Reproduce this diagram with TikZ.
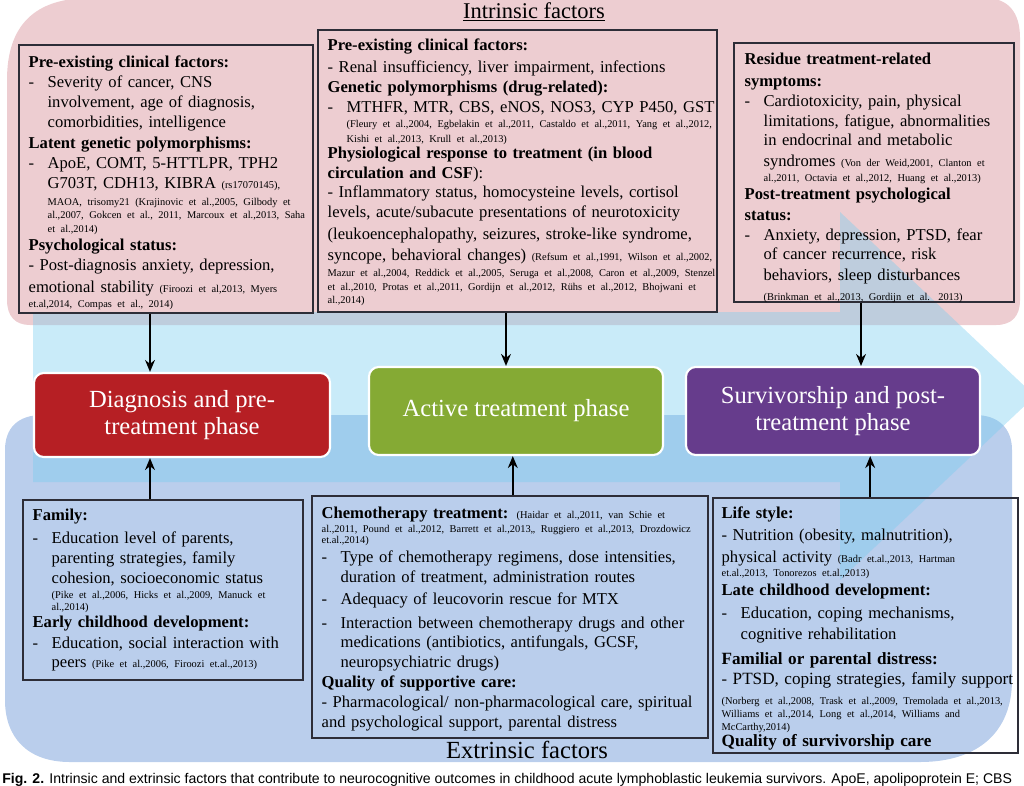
\documentclass[tikz,border=0pt]{standalone}
\usepackage{fontspec}
\setmainfont{Liberation Serif}
\setsansfont{Liberation Sans}
\usetikzlibrary{arrows.meta,positioning,fit}
\definecolor{intrbg}{RGB}{237,205,209}
\definecolor{extrbg}{RGB}{186,206,236}
\definecolor{flowcolor}{RGB}{120,205,240}
\definecolor{diagcolor}{RGB}{182,31,36}
\definecolor{activecolor}{RGB}{133,170,52}
\definecolor{survcolor}{RGB}{102,60,140}
\definecolor{framecolor}{RGB}{45,45,55}

\newcommand{\heading}[1]{\par\noindent\textbf{#1}}
\newcommand{\dashitem}{\par\noindent\makebox[13.5pt][l]{-}}
\newcommand{\hangline}{\hspace*{13.5pt}}
\newcommand{\plainitem}{\par\noindent-\ }
\newcommand{\citetxt}[1]{{\fontsize{7.4}{9}\selectfont #1}}

\begin{document}
\begin{tikzpicture}[
    x=0.025cm, y=-0.025cm,
    factorbox/.style={draw=framecolor, line width=0.9pt, inner sep=0pt},
    boxtext/.style={anchor=north west, inner sep=0pt, font=\fontsize{11.8}{14.2}\selectfont},
    phasebox/.style={rectangle, rounded corners=7pt, draw=white, line width=1.5pt, text=white, align=center, font=\fontsize{17.5}{19.5}\selectfont},
    flowarrow/.style={-{Stealth[length=8.5pt,width=7pt]}, line width=1.4pt},
    title/.style={anchor=base}
]
\useasboundingbox (0,0) rectangle (1024,785);

% Background regions
\fill[intrbg] (7,300) -- (7,80) .. controls (7,25) and (35,-2) .. (90,-2) -- (985,-2) .. controls (1008,-2) and (1020,12) .. (1020,38) -- (1020,300) .. controls (1020,316) and (1012,325) .. (996,325) -- (30,325) .. controls (15,325) and (7,316) .. (7,300) -- cycle;
\fill[extrbg] (5,450) .. controls (5,428) and (18,415) .. (42,415) -- (975,415) .. controls (998,415) and (1012,428) .. (1012,450) -- (1012,680) .. controls (1012,732) and (978,762) .. (920,762) -- (70,762) .. controls (28,762) and (5,738) .. (5,700) -- cycle;

% Big time arrow
\fill[flowcolor, opacity=0.4] (33,312) -- (840,312) -- (840,212) -- (1035,396) -- (840,580) -- (840,482) -- (33,482) -- cycle;

% Titles
\node[title, font=\fontsize{16}{18}\selectfont] (intrtitle) at (534,18) {\underline{Intrinsic factors}};
\node[title, font=\fontsize{17.5}{20}\selectfont] (extrtitle) at (527,758) {Extrinsic factors};

% Intrinsic factor boxes
\node[factorbox, fit={(19,45) (313,313)}] (intrL) {};
\node[factorbox, fit={(318,30) (717,312)}] (intrM) {};
\node[factorbox, fit={(734,43) (1014,302)}] (intrR) {};

\node[boxtext, text width=7.3cm] (intrLtext) at ([shift={(10,2.7)}]intrL.north west) {
\heading{Pre-existing clinical factors:}
\dashitem Severity of cancer, CNS\\
\hangline involvement, age of diagnosis,\\
\hangline comorbidities, intelligence
\vspace{0.7pt}
\heading{Latent genetic polymorphisms:}
\dashitem ApoE, COMT, 5-HTTLPR, TPH2\\
\hangline G703T, CDH13, KIBRA \citetxt{(rs17070145),}\\[-2.1pt]
\hangline\citetxt{MAOA, trisomy21 (Krajinovic et al.,2005, Gilbody et}\\[-4.6pt]
\hangline\citetxt{al.,2007, Gokcen et al., 2011, Marcoux et al.,2013, Saha}\\[-4.3pt]
\hangline\citetxt{et al.,2014)}
\vspace{-1.4pt}
\heading{Psychological status:}
\plainitem Post-diagnosis anxiety, depression,\\[1.4pt]
emotional stability \citetxt{(Firoozi et al,2013, Myers}\\[-3.6pt]
\citetxt{et.al,2014, Compas et al., 2014)}
};

\node[boxtext, text width=10.2cm] (intrMtext) at ([shift={(10,0.7)}]intrM.north west) {
\heading{Pre-existing clinical factors:}
\vspace{1.4pt}
\plainitem Renal insufficiency, liver impairment, infections
\heading{Genetic polymorphisms (drug-related):}
\dashitem MTHFR, MTR, CBS, eNOS, NOS3, CYP P450, GST\\[-3.6pt]
\hangline\citetxt{(Fleury et al.,2004, Egbelakin et al.,2011, Castaldo et al.,2011, Yang et al.,2012,}\\[-3.6pt]
\hangline\citetxt{Kishi et al.,2013, Krull et al.,2013)}
\vspace{-2.8pt}
\heading{Physiological response to treatment (in blood\\
circulation and CSF}):
\plainitem Inflammatory status, homocysteine levels, cortisol\\
levels, acute/subacute presentations of neurotoxicity\\[1.4pt]
(leukoencephalopathy, seizures, stroke-like syndrome,\\[0.7pt]
syncope, behavioral changes) \citetxt{(Refsum et al.,1991, Wilson et al.,2002,}\\[-2.8pt]
\citetxt{Mazur et al.,2004, Reddick et al.,2005, Seruga et al.,2008, Caron et al.,2009, Stenzel}\\[-4.3pt]
\citetxt{et al.,2010, Protas et al.,2011, Gordijn et al.,2012, Rühs et al.,2012, Bhojwani et}\\[-5pt]
\citetxt{al.,2014)}
};

\node[boxtext, text width=6.9cm] (intrRtext) at ([shift={(11,1.7)}]intrR.north west) {
\heading{Residue treatment-related\\[1.4pt]
symptoms:}
\dashitem Cardiotoxicity, pain, physical\\
\hangline limitations, fatigue, abnormalities\\[-0.7pt]
\hangline in endocrinal and metabolic\\[0.7pt]
\hangline syndromes \citetxt{(Von der Weid,2001, Clanton et}\\[-3.6pt]
\hangline\citetxt{al.,2011, Octavia et al.,2012, Huang et al.,2013)}
\vspace{-1.4pt}
\heading{Post-treatment psychological\\[1.4pt]
status:}
\dashitem Anxiety, depression, PTSD, fear\\[-0.7pt]
\hangline of cancer recurrence, risk\\[0.7pt]
\hangline behaviors, sleep disturbances\\
\hangline\citetxt{(Brinkman et al.,2013, Gordijn et al. 2013)}
};

% Extrinsic factor boxes
\node[factorbox, fit={(23,500) (303,680)}] (extL) {};
\node[factorbox, fit={(312,496) (708,738)}] (extM) {};
\node[factorbox, fit={(713,498) (1018,753)}] (extR) {};

\node[boxtext, text width=6.95cm] (extLtext) at ([shift={(10,0.7)}]extL.north west) {
\heading{Family:}
\vspace{2.1pt}
\dashitem Education level of parents,\\
\hangline parenting strategies, family\\
\hangline cohesion, socioeconomic status\\[-3.6pt]
\hangline\citetxt{(Pike et al.,2006, Hicks et al.,2009, Manuck et}\\[-5.7pt]
\hangline\citetxt{al.,2014)}
\vspace{-2.1pt}
\heading{Early childhood development:}
\vspace{0.7pt}
\dashitem Education, social interaction with\\
\hangline peers \citetxt{(Pike et al.,2006, Firoozi et.al.,2013)}
};

\node[boxtext, text width=9.9cm] (extMtext) at ([shift={(10,2.7)}]extM.north west) {
\heading{Chemotherapy treatment:} \citetxt{(Haidar et al.,2011, van Schie et}\\[-4.3pt]
\citetxt{al.,2011, Pound et al.,2012, Barrett et al.,2013,, Ruggiero et al.,2013, Drozdowicz}\\[-6.4pt]
\citetxt{et.al.,2014)}
\vspace{-0.7pt}
\dashitem Type of chemotherapy regimens, dose intensities,\\
\hangline duration of treatment, administration routes
\vspace{1.4pt}
\dashitem Adequacy of leucovorin rescue for MTX
\vspace{2.8pt}
\dashitem Interaction between chemotherapy drugs and other\\
\hangline medications (antibiotics, antifungals, GCSF,\\
\hangline neuropsychiatric drugs)
\heading{Quality of supportive care:}
\plainitem Pharmacological/ non-pharmacological care, spiritual\\
and psychological support, parental distress
};

\node[boxtext, text width=7.6cm] (extRtext) at ([shift={(9,0.7)}]extR.north west) {
\heading{Life style:}
\vspace{1.4pt}
\plainitem Nutrition (obesity, malnutrition),\\[1.4pt]
physical activity \citetxt{(Badr et.al.,2013, Hartman}\\[-4.3pt]
\citetxt{et.al.,2013, Tonorezos et.al.,2013)}
\vspace{-0.7pt}
\heading{Late childhood development:}
\vspace{2.1pt}
\dashitem Education, coping mechanisms,\\[1.4pt]
\hangline cognitive rehabilitation
\vspace{3.5pt}
\heading{\fontsize{12.2}{14.2}\selectfont Familial or parental distress:}
\plainitem {\fontsize{12.2}{14.2}\selectfont PTSD, coping strategies, family support}\\
\citetxt{(Norberg et al.,2008, Trask et al.,2009, Tremolada et al.,2013,}\\[-5pt]
\citetxt{Williams et al.,2014, Long et al.,2014, Williams and}\\[-5pt]
\citetxt{McCarthy,2014)}
\vspace{-2.8pt}
\heading{\fontsize{12.2}{14.2}\selectfont Quality of survivorship care}
};

% Treatment phases
\node[phasebox, fill=diagcolor, minimum width=7.4cm, minimum height=2.1cm] (diag) at (182,415) {Diagnosis and pre-\\treatment phase};
\node[phasebox, fill=activecolor, minimum width=7.35cm, minimum height=2.2cm] (active) at (516,411) {Active treatment phase};
\node[phasebox, fill=survcolor, minimum width=7.35cm, minimum height=2.2cm] (surv) at (833,411) {Survivorship and post-\\treatment phase};

% Arrow ends on the phases
\coordinate (diagin) at ([xshift=-0.8cm]diag.north);
\coordinate (diagout) at ([xshift=-0.8cm]diag.south);
\coordinate (activein) at ([xshift=-0.25cm]active.north);
\coordinate (activeout) at ([xshift=-0.08cm]active.south);
\coordinate (survin) at ([xshift=0.7cm]surv.north);
\coordinate (survout) at ([xshift=0.93cm]surv.south);

% Factors act on the phases
\draw[flowarrow] (intrL.south -| diagin) -- (diagin);
\draw[flowarrow] (intrM.south -| activein) -- (activein);
\draw[flowarrow] (intrR.south -| survin) -- (survin);
\draw[flowarrow] (extL.north -| diagout) -- (diagout);
\draw[flowarrow] (extM.north -| activeout) -- (activeout);
\draw[flowarrow] (extR.north -| survout) -- (survout);

% Caption (runs to the page edge)
\node[anchor=base west, inner sep=0pt, font=\sffamily\fontsize{10}{12}\selectfont] (caption) at (2,783) {\textbf{Fig. 2.} Intrinsic and extrinsic factors that contribute to neurocognitive outcomes in childhood acute lymphoblastic leukemia survivors. ApoE, apolipoprotein E; CBS};

\end{tikzpicture}
\end{document}
